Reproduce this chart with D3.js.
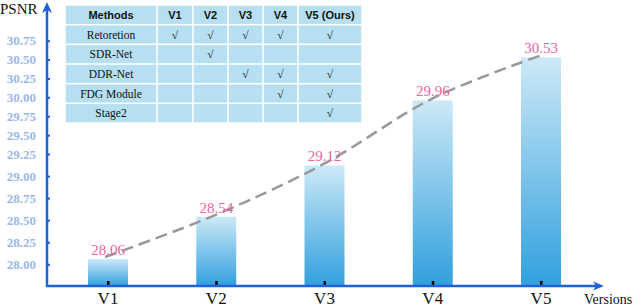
<!DOCTYPE html>
<html lang="en">
<head>
<meta charset="UTF-8">
<title>PSNR by version</title>
<script src="https://d3js.org/d3.v7.min.js"></script>
<style>
  body { margin: 0; background: #fff; }
</style>
</head>
<body>
<div id="chart"></div>
<script>
    // data
    const versions = ["V1", "V2", "V3", "V4", "V5"];
    const psnr = [28.06, 28.54, 29.12, 29.96, 30.53];
    const yTicks = [28.00, 28.25, 28.50, 28.75, 29.00, 29.25, 29.50, 29.75, 30.00, 30.25, 30.50, 30.75];

    const tableHeader = ["Methods", "V1", "V2", "V3", "V4", "V5 (Ours)"];
    const methods = ["Retoretion", "SDR-Net", "DDR-Net", "FDG Module", "Stage2"];
    const used = [
        [1, 1, 1, 1, 1],
        [0, 1, 0, 0, 0],
        [0, 0, 1, 1, 1],
        [0, 0, 0, 1, 1],
        [0, 0, 0, 0, 1]
    ];

    const width = 640, height = 307;
    const axisColor = "#1f62d8";
    const serif = "Liberation Serif, Times New Roman, serif";
    const sans = "Liberation Sans, Arial, sans-serif";

    const svg = d3.select("#chart").append("svg")
        .attr("width", width)
        .attr("height", height);

    const defs = svg.append("defs");
    const grad = defs.append("linearGradient")
        .attr("id", "barGrad")
        .attr("x1", 0).attr("y1", 0).attr("x2", 0).attr("y2", 1);
    grad.append("stop").attr("offset", "0%").attr("stop-color", "#cde9f7");
    grad.append("stop").attr("offset", "100%").attr("stop-color", "#31a0de");

    // the y axis in the original is not evenly spaced
    const y = d3.scaleLinear()
        .domain([28.0, 29.25, 30.75])
        .range([264.3, 154, 40.7]);
    const x = d3.scalePoint()
        .domain(versions)
        .range([108, 541]);

    const axisX = 47, axisY = 286;
    const barW = 40;

    // bars
    svg.selectAll("rect.bar")
        .data(psnr)
        .join("rect")
        .attr("class", "bar")
        .attr("x", (d, i) => x(versions[i]) - barW / 2)
        .attr("y", d => y(d))
        .attr("width", barW)
        .attr("height", d => axisY - y(d))
        .attr("fill", "url(#barGrad)");

    // small black ticks on the x axis
    svg.selectAll("rect.xt")
        .data(versions)
        .join("rect")
        .attr("class", "xt")
        .attr("x", d => x(d) - 1)
        .attr("y", axisY - 5)
        .attr("width", 2.5)
        .attr("height", 5)
        .attr("fill", "#000");

    // trend line
    const line = d3.line()
        .x((d, i) => x(versions[i]) - (i === 0 ? 3 : 0))
        .y(d => y(d) - 2)
        .curve(d3.curveCatmullRom.alpha(0.5));
    svg.append("path")
        .datum(psnr)
        .attr("d", line)
        .attr("fill", "none")
        .attr("stroke", "#999")
        .attr("stroke-width", 2.5)
        .attr("stroke-dasharray", "12,6");

    // value labels
    svg.selectAll("text.val")
        .data(psnr)
        .join("text")
        .attr("class", "val")
        .attr("x", (d, i) => x(versions[i]))
        .attr("y", d => y(d) - 4)
        .attr("text-anchor", "middle")
        .style("font-family", serif)
        .style("font-size", "15px")
        .attr("fill", "#e8679e")
        .text(d => d.toFixed(2));

    // y axis
    const yAxis = d3.axisRight(y)
        .tickValues(yTicks)
        .tickSize(3)
        .tickFormat("");
    const gy = svg.append("g")
        .attr("transform", `translate(${axisX},0)`)
        .call(yAxis);
    gy.select(".domain").remove();
    gy.selectAll(".tick line").attr("stroke", axisColor).attr("stroke-width", 2);

    svg.selectAll("text.ytl")
        .data(yTicks)
        .join("text")
        .attr("class", "ytl")
        .attr("x", 36)
        .attr("y", d => y(d) + 4.5)
        .attr("text-anchor", "end")
        .style("font-family", serif)
        .style("font-weight", "bold")
        .style("font-size", "13px")
        .attr("fill", "#9bb8ec")
        .text(d => d.toFixed(2));

    // axis lines with arrows
    svg.append("line")
        .attr("x1", axisX).attr("y1", axisY + 1)
        .attr("x2", axisX).attr("y2", 8)
        .attr("stroke", axisColor).attr("stroke-width", 2.5);
    svg.append("path")
        .attr("d", `M${axisX},2 L${axisX - 5},13 L${axisX},10 L${axisX + 5},13 Z`)
        .attr("fill", axisColor);
    svg.append("line")
        .attr("x1", axisX - 1).attr("y1", axisY)
        .attr("x2", 598).attr("y2", axisY)
        .attr("stroke", axisColor).attr("stroke-width", 2.5);
    svg.append("path")
        .attr("d", `M604,${axisY} L593,${axisY - 4.5} L596,${axisY} L593,${axisY + 4.5} Z`)
        .attr("fill", axisColor);

    // x labels
    svg.selectAll("text.xl")
        .data(versions)
        .join("text")
        .attr("class", "xl")
        .attr("x", d => x(d))
        .attr("y", 304)
        .attr("text-anchor", "middle")
        .style("font-family", serif)
        .style("font-size", "17px")
        .attr("fill", "#111")
        .text(d => d);

    svg.append("text")
        .attr("x", 584).attr("y", 304)
        .style("font-family", serif)
        .style("font-size", "14px")
        .attr("fill", "#111")
        .text("Versions");

    svg.append("text")
        .attr("x", 0).attr("y", 14)
        .style("font-family", serif)
        .style("font-size", "15px")
        .attr("fill", "#111")
        .text("PSNR");

    // table of modules
    const colEdges = [65, 157, 193, 228, 263, 298, 362];
    const rowY = d3.scaleBand()
        .domain(d3.range(methods.length + 1))
        .range([5, 123]);
    const tbl = svg.append("g");

    for (let r = 0; r <= methods.length; r++) {
        for (let c = 0; c < tableHeader.length; c++) {
            const x0 = colEdges[c], x1 = colEdges[c + 1];
            tbl.append("rect")
                .attr("x", x0 + 0.75).attr("y", rowY(r) + 0.75)
                .attr("width", x1 - x0 - 1.5).attr("height", rowY.bandwidth() - 1.5)
                .attr("fill", "#b6e0f1");
            let txt = "";
            if (r === 0) txt = tableHeader[c];
            else if (c === 0) txt = methods[r - 1];
            else if (used[r - 1][c - 1]) txt = "√";
            if (!txt) continue;
            tbl.append("text")
                .attr("x", (x0 + x1) / 2)
                .attr("y", rowY(r) + rowY.bandwidth() / 2 + 4)
                .attr("text-anchor", "middle")
                .style("font-family", r === 0 ? sans : serif)
                .style("font-weight", r === 0 ? "bold" : "normal")
                .style("font-size", r === 0 ? "11px" : "11.5px")
                .attr("fill", "#111")
                .text(txt);
        }
    }
</script>
</body>
</html>
